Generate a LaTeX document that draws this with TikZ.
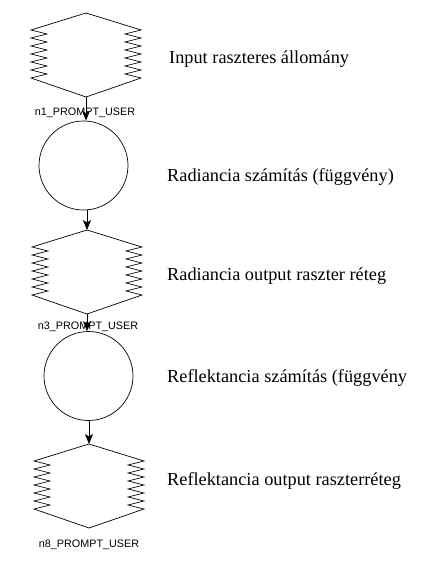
\documentclass[tikz,border=0pt]{standalone}
\usepackage{fontspec}
\setmainfont{Liberation Serif}
\newfontfamily\lblfont{Liberation Sans}
\usetikzlibrary{arrows.meta}
\tikzset{
  x=1pt, y=-1pt,
  shapeline/.style={draw=black, line width=0.7pt},
  conn/.style={draw=black, line width=0.9pt, -{Stealth[length=10pt,width=8pt,inset=2.5pt]}},
  proc/.style={circle, draw=black, line width=0.7pt, minimum size=89pt, inner sep=0pt},
  tag/.style={font=\lblfont\fontsize{10.8}{12}\selectfont, inner sep=0pt},
  desc/.style={font=\fontsize{18.3}{21}\selectfont, anchor=base west, inner sep=0pt},
  pics/zig/.style={code={
    \draw[shapeline] (0,0) -- (-55,17) -- (-39,21) -- (-55,25) -- (-39,29) -- (-55,33)
      -- (-39,37) -- (-55,41) -- (-39,45) -- (-55,49) -- (-39,53) -- (-55,57)
      -- (-39,61) -- (-55,65) -- (0,84);
    \draw[shapeline] (0,0) -- (55,17) -- (39,21) -- (55,25) -- (39,29) -- (55,33)
      -- (39,37) -- (55,41) -- (39,45) -- (55,49) -- (39,53) -- (55,57)
      -- (39,61) -- (55,65) -- (0,84);
    \coordinate (-top) at (0,0);
    \coordinate (-bot) at (0,84);
  }}
}
\begin{document}
\begin{tikzpicture}
\useasboundingbox (0,0) rectangle (427,581);
\fill[white] (0,0) rectangle (427,581);

\pic (d1) at (86,13) {zig};
\node[proc] (c1) at (83.5,165.5) {};
\pic (d2) at (87,230) {zig};
\node[proc] (c2) at (88.5,376) {};
\pic (d3) at (89,444) {zig};

\node[tag] (l1) at (85,113) {n1\_PROMPT\_USER};
\node[tag] (l3) at (88,327) {n3\_PROMPT\_USER};
\node[tag] (l8) at (89,545) {n8\_PROMPT\_USER};

\draw[conn] (d1-bot) -- (d1-bot |- c1.north);
\draw[conn] (d2-top |- c1.south) -- (d2-top);
\draw[conn] (d2-bot) -- (d2-bot |- c2.north);
\draw[conn] (d3-top |- c2.south) -- (d3-top);

\node[desc] (t1) at (169,63) {Input raszteres állomány};
\node[desc] (t2) at (167,181) {Radiancia számítás (függvény)};
\node[desc] (t3) at (167,280) {Radiancia output raszter réteg};
\node[desc] (t4) at (167,382) {Reflektancia számítás (függvény};
\node[desc] (t5) at (167,485) {Reflektancia output raszterréteg};
\end{tikzpicture}
\end{document}
